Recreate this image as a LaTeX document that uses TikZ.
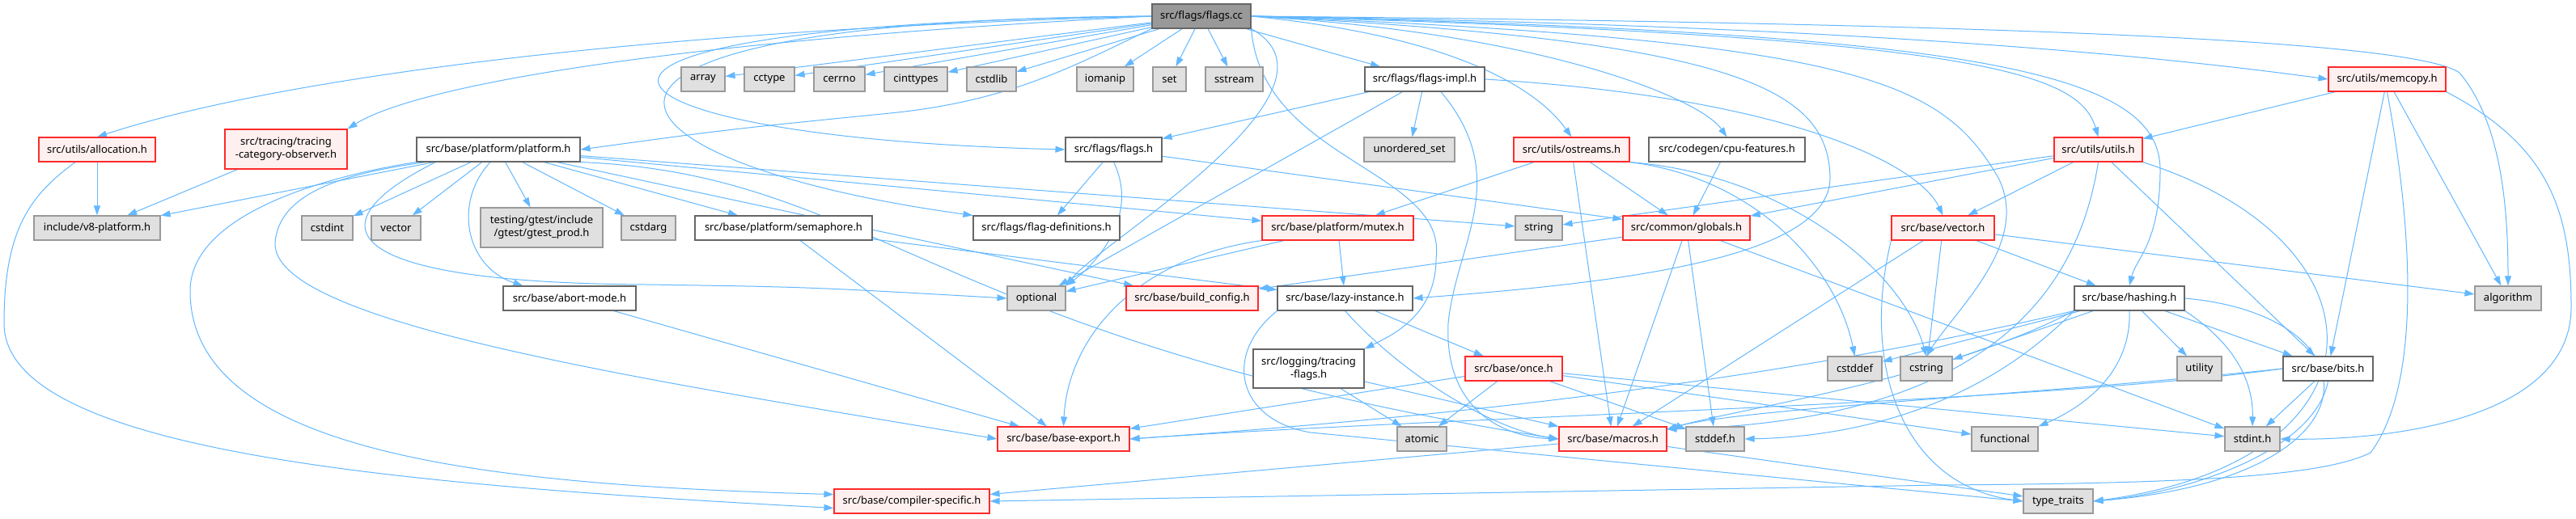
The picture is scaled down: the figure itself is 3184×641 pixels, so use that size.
\documentclass[tikz,border=0pt]{standalone}
\usepackage{fontspec}
\setmainfont{Noto Sans}
\usetikzlibrary{arrows.meta}
\definecolor{DxEdge}{HTML}{63B8FF}
\definecolor{DxRootFill}{HTML}{999999}
\definecolor{DxRootLine}{HTML}{666666}
\definecolor{DxLine}{HTML}{666666}
\definecolor{DxRed}{HTML}{FF2A2A}
\definecolor{DxRedFill}{HTML}{FFF0F0}
\definecolor{DxSys}{HTML}{E0E0E0}
\definecolor{DxSysLine}{HTML}{999999}
\pgfdeclarelayer{canvas}
\pgfdeclarelayer{wires}
\pgfsetlayers{canvas,wires,main}

\begin{document}
\begin{tikzpicture}[x=1pt,y=-1pt,
  box/.style={draw,line width=1.1pt,minimum height=30pt,inner sep=2pt,
    font=\fontsize{13}{16}\selectfont,align=center},
  rootfile/.style={box,draw=DxRootLine,fill=DxRootFill},
  hdr/.style={box,draw=DxLine,fill=white},
  redhdr/.style={box,draw=DxRed,fill=DxRedFill},
  sysinc/.style={box,draw=DxSysLine,fill=DxSys},
  incl/.style={DxEdge,line width=1pt,-{Triangle[length=12pt,width=8pt]}}]
\path[use as bounding box] (0,0) rectangle (3184,641);
\begin{pgfonlayer}{canvas}
\fill[white] (0,0) rectangle (3184,641);
\end{pgfonlayer}

% rank 0 and 1
\node[rootfile,minimum width=122pt] (fc) at (1485,20) {src/flags/flags.cc};
\node[sysinc,minimum width=54pt] (array) at (869,98) {array};
\node[sysinc,minimum width=62pt] (cctype) at (951,98) {cctype};
\node[sysinc,minimum width=63pt] (cerrno) at (1037.5,98) {cerrno};
\node[sysinc,minimum width=78pt] (cinttypes) at (1132,98) {cinttypes};
\node[sysinc,minimum width=61pt] (cstdlib) at (1225.5,98) {cstdlib};
\node[sysinc,minimum width=70pt] (iomanip) at (1366,98) {iomanip};
\node[sysinc,minimum width=41pt] (setinc) at (1445.5,98) {set};
\node[sysinc,minimum width=71pt] (sstream) at (1525.5,98) {sstream};
\node[hdr,minimum width=148pt] (flagsimpl) at (1761,98) {src/flags/flags-impl.h};
\node[redhdr,minimum width=145pt] (memcopy) at (2950.5,98) {src/utils/memcopy.h};
% rank 2
\node[redhdr,minimum width=144pt] (alloc) at (120,185) {src/utils/allocation.h};
\node[redhdr,minimum width=151pt,minimum height=49pt] (tco) at (353.5,184.5) {src/tracing/tracing\\-category-observer.h};
\node[hdr,minimum width=202pt] (platform) at (616,185) {src/base/platform/platform.h};
\node[hdr,minimum width=119pt] (flagsh) at (1376.5,185) {src/flags/flags.h};
\node[sysinc,minimum width=112pt] (unordered) at (1742,185) {unordered\_set};
\node[redhdr,minimum width=143pt] (ostreams) at (1942.5,185) {src/utils/ostreams.h};
\node[hdr,minimum width=193pt] (cpufeat) at (2134.5,185) {src/codegen/cpu-features.h};
\node[redhdr,minimum width=109pt] (utils) at (2593.5,185) {src/utils/utils.h};
% rank 3
\node[sysinc,minimum width=156pt] (v8plat) at (120,282) {include/v8-platform.h};
\node[sysinc,minimum width=63pt] (cstdint) at (404.5,282) {cstdint};
\node[sysinc,minimum width=61pt] (vector) at (489.5,282) {vector};
\node[sysinc,minimum width=151pt,minimum height=49pt] (gtest) at (669.5,281.5) {testing/gtest/include\\/gtest/gtest\_prod.h};
\node[sysinc,minimum width=67pt] (cstdarg) at (801.5,282) {cstdarg};
\node[hdr,minimum width=219pt] (semaphore) at (968.5,282) {src/base/platform/semaphore.h};
\node[hdr,minimum width=181pt] (flagdefs) at (1293.5,282) {src/flags/flag-definitions.h};
\node[redhdr,minimum width=187pt] (mutex) at (1653.5,282) {src/base/platform/mutex.h};
\node[sysinc,minimum width=58pt] (string) at (1902,282) {string};
\node[redhdr,minimum width=157pt] (globals) at (2084.5,282) {src/common/globals.h};
\node[redhdr,minimum width=127pt] (vectorh) at (2401.5,282) {src/base/vector.h};
% rank 4
\node[hdr,minimum width=164pt] (abort) at (704,369) {src/base/abort-mode.h};
\node[sysinc,minimum width=72pt] (optional) at (1281,369) {optional};
\node[redhdr,minimum width=163pt] (buildcfg) at (1473.5,369) {src/base/build\_config.h};
\node[hdr,minimum width=167pt] (lazy) at (1662.5,369) {src/base/lazy-instance.h};
\node[hdr,minimum width=136pt] (hashing) at (2632,369) {src/base/hashing.h};
\node[sysinc,minimum width=82pt] (algorithm) at (3100,369) {algorithm};
% rank 5
\node[hdr,minimum width=137pt,minimum height=48pt] (trflags) at (1617.5,456) {src/logging/tracing\\-flags.h};
\node[redhdr,minimum width=120pt] (once) at (1871,456) {src/base/once.h};
\node[sysinc,minimum width=67pt] (cstddef) at (2292.5,456) {cstddef};
\node[sysinc,minimum width=64pt] (cstring) at (2381,456) {cstring};
\node[sysinc,minimum width=55pt] (utility) at (2718.5,456) {utility};
\node[hdr,minimum width=111pt] (bits) at (2877.5,456) {src/base/bits.h};
% rank 6 and 7
\node[redhdr,minimum width=163pt] (baseexp) at (1314.5,543) {src/base/base-export.h};
\node[sysinc,minimum width=61pt] (atomic) at (1757.5,543) {atomic};
\node[redhdr,minimum width=133pt] (macros) at (1993.5,543) {src/base/macros.h};
\node[sysinc,minimum width=72pt] (stddef) at (2120,543) {stddef.h};
\node[sysinc,minimum width=82pt] (functional) at (2478,543) {functional};
\node[sysinc,minimum width=68pt] (stdint) at (2784,543) {stdint.h};
\node[redhdr,minimum width=192pt] (compspec) at (1127,620) {src/base/compiler-specific.h};
\node[sysinc,minimum width=86pt] (typetraits) at (2544,620) {type\_traits};

\begin{pgfonlayer}{wires}
% straight includes
\foreach \a/\b in {fc/array,fc/cctype,fc/cerrno,fc/cinttypes,fc/cstdlib,fc/iomanip,fc/setinc,fc/sstream,fc/flagsimpl,
  alloc/v8plat,tco/v8plat,platform/v8plat,platform/cstdint,platform/vector,platform/gtest,platform/cstdarg,
  platform/semaphore,platform/string,platform/mutex,platform/buildcfg,
  flagsimpl/flagsh,flagsimpl/unordered,flagsimpl/optional,flagsh/flagdefs,flagsh/globals,
  ostreams/mutex,ostreams/globals,ostreams/macros,cpufeat/globals,
  utils/string,utils/globals,utils/vectorh,utils/bits,memcopy/utils,memcopy/algorithm,memcopy/bits,
  semaphore/baseexp,semaphore/lazy,abort/baseexp,mutex/optional,mutex/lazy,
  globals/buildcfg,globals/macros,globals/stddef,globals/stdint,
  vectorh/hashing,vectorh/algorithm,vectorh/cstring,vectorh/macros,lazy/once,
  trflags/atomic,trflags/macros,once/atomic,once/stddef,once/functional,once/stdint,once/baseexp,
  hashing/cstddef,hashing/cstring,hashing/utility,hashing/bits,bits/stdint,
  macros/compspec,macros/typetraits}
  \draw[incl] (\a) -- (\b);
% flags.cc, left side
\draw[incl] (fc.west) .. controls (700,40) and (300,110) .. (alloc.north);
\draw[incl] (fc.west) .. controls (750,55) and (500,115) .. (tco.north east);
\draw[incl] (fc.south west) .. controls (1330,80) and (1250,125) .. (1100,140) .. controls (900,160) .. (platform.east);
\draw[incl] (fc.west) .. controls (560,30) and (700,170) .. (flagsh.west);
\draw[incl] (fc.west) .. controls (600,25) and (720,200) .. (flagdefs.north west);
\draw[incl] (fc.south east) .. controls (1680,110) and (1360,300) .. (optional.north east);
% flags.cc, right side
\draw[incl] (fc.east) .. controls (1800,45) and (1900,110) .. (ostreams.north);
\draw[incl] (fc.east) .. controls (1900,40) and (2100,120) .. (cpufeat.north);
\draw[incl] (fc.east) .. controls (2450,45) and (2570,90) .. (utils.north);
\draw[incl] (fc.east) .. controls (2200,30) and (2600,60) .. (memcopy.west);
\draw[incl] (fc.east) .. controls (2600,30) and (2990,55) .. (3040,90) .. controls (3090,150) and (3100,250) .. (algorithm.north);
\draw[incl] (fc.east) .. controls (2450,40) and (2670,90) .. (2670,210) .. controls (2670,300) and (2640,320) .. (hashing.north);
\draw[incl] (fc.east) .. controls (2300,50) and (2400,100) .. (2470,220) .. controls (2510,300) and (2420,380) .. (cstring.north);
\draw[incl] (fc.east) .. controls (2150,50) and (2260,110) .. (2262,220) .. controls (2262,320) and (2000,350) .. (lazy.east);
\draw[incl] (fc.south east) .. controls (1560,200) and (1790,210) .. (1775,320) .. controls (1775,390) and (1720,415) .. (trflags.north east);
% platform.h
\draw[incl] (platform.south west) .. controls (420,215) and (235,260) .. (235,360) .. controls (235,560) and (600,600) .. (compspec.175);
\draw[incl] ([xshift=12pt]platform.south west) .. controls (420,215) and (345,240) .. (340,300) .. controls (335,400) and (800,470) .. (baseexp.west);
\draw[incl] ([xshift=24pt]platform.south west) .. controls (380,280) and (420,350) .. (800,352) .. controls (1000,355) .. (optional.west);
\draw[incl] ([xshift=-10pt]platform.south) .. controls (560,250) and (575,330) .. ([xshift=25pt]abort.north west);
\draw[incl] (platform.south east) .. controls (1080,215) and (1150,420) .. (macros.west);
\draw[incl] ([xshift=-27pt]alloc.south) .. controls (40,240) and (5,280) .. (5,400) .. controls (5,560) and (500,600) .. (compspec.185);
% flags headers
\draw[incl] (flagsh.south) .. controls (1410,270) and (1350,330) .. (optional.north east);
\draw[incl] ([xshift=20pt]flagsimpl.south) .. controls (1870,220) and (1800,300) .. (1790,400) .. controls (1785,500) and (1850,540) .. (macros.west);
\draw[incl] (flagsimpl.east) .. controls (2200,120) and (2370,200) .. (vectorh.north);
% base headers
\draw[incl] (mutex.south west) .. controls (1400,320) and (1320,420) .. (baseexp.north);
\draw[incl] (lazy.south) .. controls (1730,460) and (1840,530) .. (macros.west);
\draw[incl] (lazy.south west) .. controls (1510,440) and (1530,520) .. (1620,535) -- (typetraits.west);
\draw[incl] (ostreams.south east) .. controls (2170,220) and (2270,330) .. (cstddef.north);
\draw[incl] (ostreams.south east) .. controls (2200,215) and (2350,330) .. (cstring.north);
\draw[incl] (vectorh.south west) .. controls (2300,450) and (2350,600) .. (typetraits.west);
\draw[incl] (utils.south) .. controls (2570,350) and (2470,520) .. ([yshift=12pt]macros.east);
\draw[incl] (utils.south east) .. controls (2960,300) and (2960,570) .. (typetraits.east);
\draw[incl] (hashing.east) .. controls (2940,390) and (2950,590) .. (typetraits.east);
\draw[incl] (hashing.south east) .. controls (2770,430) and (2785,480) .. (stdint.north);
\draw[incl] (hashing.south) .. controls (2635,470) and (2560,510) .. (functional.north east);
\draw[incl] (hashing.south west) .. controls (2450,500) and (2300,540) .. (stddef.east);
\draw[incl] (hashing.south west) .. controls (2400,470) and (2150,505) .. ([yshift=12pt]macros.east);
\draw[incl] (hashing.south west) .. controls (2200,470) and (1800,515) .. (baseexp.east);
\draw[incl] (bits.south) .. controls (2860,560) and (2700,610) .. (typetraits.east);
\draw[incl] (bits.west) .. controls (2500,500) and (1800,515) .. (baseexp.east);
\draw[incl] (bits.west) .. controls (2500,490) and (2150,505) .. ([yshift=12pt]macros.east);
\draw[incl] (memcopy.south east) .. controls (3150,180) and (3178,260) .. (3178,380) .. controls (3178,520) and (2950,545) .. (stdint.east);
\draw[incl] (memcopy.south) .. controls (2985,300) and (2990,480) .. (2930,560) .. controls (2870,590) and (2700,598) .. (2400,600) -- (compspec.east);
\end{pgfonlayer}
\end{tikzpicture}
\end{document}
